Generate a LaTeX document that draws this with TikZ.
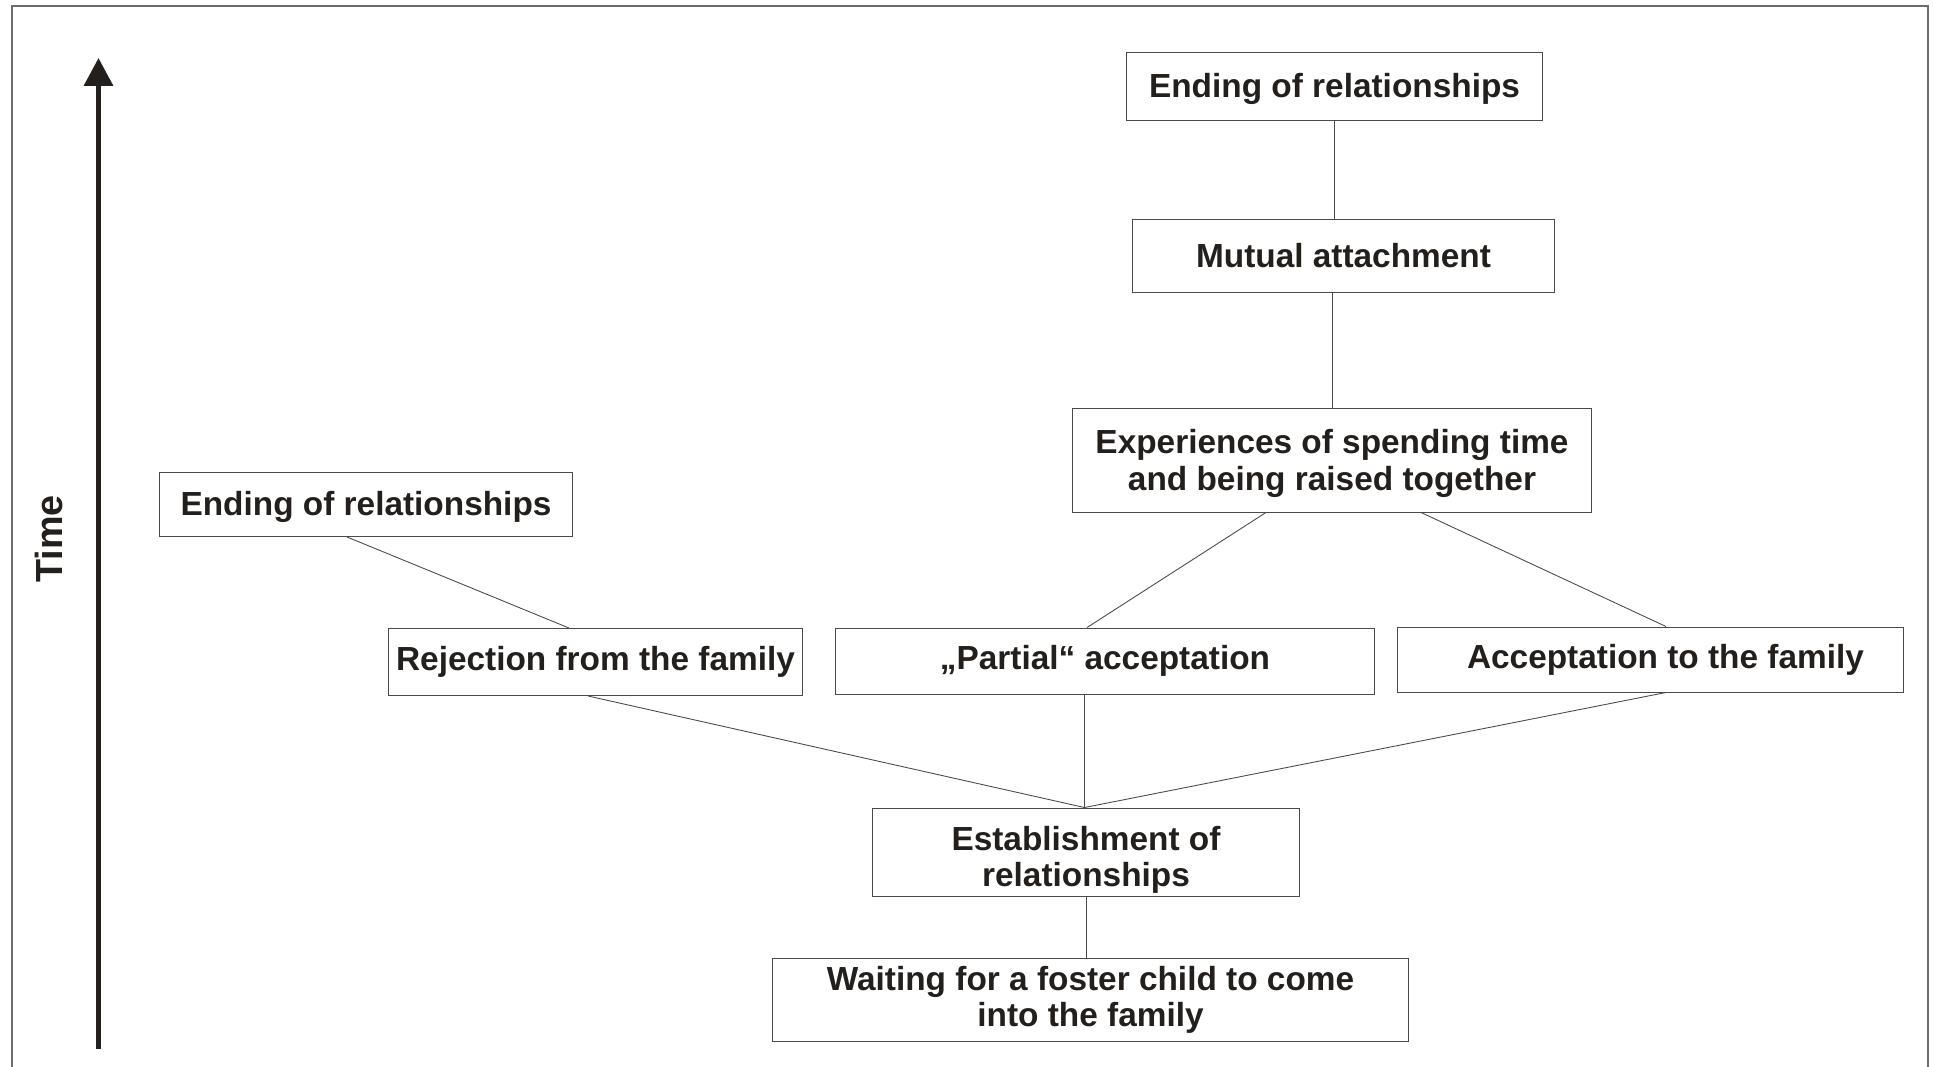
\documentclass[tikz,border=0pt]{standalone}
\usepackage{fontspec}
\setmainfont{Liberation Sans}
\usetikzlibrary{arrows.meta}
\usetikzlibrary{positioning}
\definecolor{ink}{HTML}{231F1C}
\definecolor{edge}{HTML}{4A4A4A}
\begin{document}
\begin{tikzpicture}[x=0.02cm,y=-0.02cm,
  box/.style={draw=edge,line width=0.55pt,rectangle,inner sep=0pt,align=center,text=ink,
    font=\fontsize{19}{20.6}\selectfont\bfseries},
  link/.style={draw=edge,line width=0.5pt}]
  \useasboundingbox (0,0) rectangle (1934,1067);
  \draw[line width=1.1pt,draw=gray!85!black] (12,1067) -- (12,6) -- (1928,6) -- (1928,1067);

  % time axis
  \coordinate (t0) at (98.5,1049);
  \coordinate (t1) at (98.5,58);
  \draw[ink,line width=0.1cm,-{Triangle[width=0.57cm,length=0.56cm]}](t0)--(t1);
  \node[rotate=90,text=ink,font=\fontsize{21.5}{24}\selectfont\bfseries] (time) at (49,539){Time};

  \node[box,minimum width=8.34cm,minimum height=1.36cm,text depth=1.2pt] (endtop) at (1334.5,86){Ending of relationships};
  \node[box,minimum width=8.46cm,minimum height=1.46cm] (mutual) at (1343.5,255.5){Mutual attachment};
  \node[box,minimum width=10.4cm,minimum height=2.08cm,text depth=0pt] (exper) at (1332,460){Experiences of spending time\\and being raised together};
  \node[box,minimum width=8.28cm,minimum height=1.28cm,text depth=1.2pt] (endleft) at (366,504.5){Ending of relationships};
  \node[box,minimum width=8.3cm,minimum height=1.34cm] (reject) at (595.5,662){Rejection from the family};
  \node[box,minimum width=10.78cm,minimum height=1.32cm] (partial) at (1105,661){„Partial“ acceptation};
  \node[box,minimum width=10.14cm,minimum height=1.3cm] (accept) at (1650.5,659.5){\hspace{0.6cm}Acceptation to the family};
  \node[box,minimum width=8.56cm,minimum height=1.76cm,text height=39pt,text depth=0pt] (estab) at (1086,852){Establishment of\\relationships};
  \node[box,minimum width=12.74cm,minimum height=1.66cm] (wait) at (1090.5,999.5){Waiting for a foster child to come\\into the family};

  \coordinate (meet) at ([xshift=-0.03cm]estab.north);
  \draw[link](endtop.south)--(endtop.south |- mutual.north);
  \draw[link](exper.north)--(exper.north |- mutual.south);
  \draw[link]([xshift=-1.32cm]exper.south)--([xshift=-0.36cm]partial.north);
  \draw[link]([xshift=1.78cm]exper.south)--([xshift=0.31cm]accept.north);
  \draw[link]([xshift=-0.38cm]endleft.south)--([xshift=-0.53cm]reject.north);
  \draw[link]([xshift=-0.15cm]reject.south)--(meet);
  \draw[link](meet |- partial.south)--(meet);
  \draw[link]([xshift=0.31cm]accept.south)--(meet);
  \draw[link](estab.south)--(estab.south |- wait.north);
\end{tikzpicture}
\end{document}
